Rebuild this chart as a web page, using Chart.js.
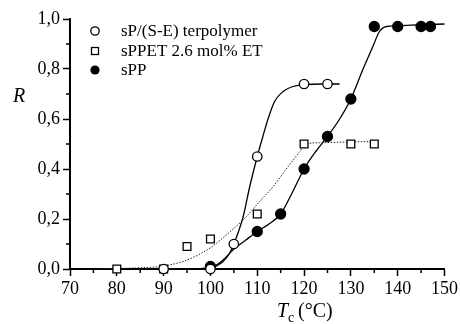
<!DOCTYPE html>
<html lang="en">
<head>
  <meta charset="UTF-8" />
  <title>R vs Tc</title>
  <style>
    *{box-sizing:border-box;margin:0;padding:0;}
    html,body{width:460px;height:324px;background:#fff;overflow:hidden;}
    #wrap{position:relative;width:460px;height:324px;}
  </style>
</head>
<body>
  <div id="wrap"><canvas id="chart" width="460" height="324"></canvas></div>

  <script src="https://cdn.jsdelivr.net/npm/chart.js@4.4.1/dist/chart.umd.min.js"></script>
  <script>
  /* -------- data -------- */
  const seriesNames=['sP/(S-E) terpolymer','sPPET 2.6 mol% ET','sPP'];

  // measured points
  const terpolyT=[90,100,105,110,120,125];
  const terpolyR=[0,0,0.10,0.45,0.74,0.74];
  const sppetT=[80,90,95,100,110,120,130,135];
  const sppetR=[0,0,0.09,0.12,0.22,0.50,0.50,0.50];
  const sppT=[100,110,115,120,125,130,135,140,145,147];
  const sppR=[0.01,0.15,0.22,0.40,0.53,0.68,0.97,0.97,0.97,0.97];

  // fitted curves (traced)
  const terpolyFitT=[90,95,100,101.3,102.7,104,105,106,107,108.4,110,111.2,112.3,113.7,115.5,117.6,120,124,127.6];
  const terpolyFitR=[0,0,0.003,0.012,0.03,0.06,0.10,0.15,0.21,0.33,0.45,0.53,0.60,0.67,0.71,0.73,0.737,0.74,0.74];
  const sppetFitT=[75.5,80,85,90,95,100,103,107.7,110.5,113.4,116.2,119.1,120.5,123.3,129,135.7];
  const sppetFitR=[0,0.002,0.005,0.012,0.036,0.085,0.13,0.21,0.27,0.33,0.40,0.47,0.50,0.505,0.508,0.51];
  const sppFitT=[90,95,100,102.7,104.8,107.5,110,112.5,115,117.6,120,122.5,125,127.6,130,132.6,134.7,136.1,137.6,140,145,150];
  const sppFitR=[0,0,0.005,0.036,0.076,0.115,0.15,0.18,0.22,0.31,0.40,0.47,0.53,0.60,0.68,0.80,0.89,0.95,0.97,0.973,0.977,0.98];

  const xTicks=[70,80,90,100,110,120,130,140,150];
  const yTicks=[0,0.2,0.4,0.6,0.8,1.0];
  const xMinor=[75,85,95,105,115,125,135,145];
  const yMinor=[0.1,0.3,0.5,0.7,0.9];

  const pts=(xs,ys)=>xs.map((x,i)=>({x,y:ys[i]}));
  const SERIF='"Liberation Serif","DejaVu Serif",serif';

  /* -------- extra drawing: minor ticks, legend, axis titles -------- */
  const decor={
    id:'decor',
    afterDraw(chart){
      const {ctx,chartArea:a,scales:{x,y}}=chart;
      ctx.save();
      ctx.strokeStyle='#000';ctx.lineWidth=1.5;
      xMinor.forEach(v=>{const px=x.getPixelForValue(v);ctx.beginPath();ctx.moveTo(px,a.bottom);ctx.lineTo(px,a.bottom+4);ctx.stroke();});
      yMinor.forEach(v=>{const py=y.getPixelForValue(v);ctx.beginPath();ctx.moveTo(a.left,py);ctx.lineTo(a.left-4,py);ctx.stroke();});

      // legend
      const rows=[31,51,70];
      ctx.lineWidth=1.3;
      ctx.beginPath();ctx.arc(95,rows[0],4.2,0,Math.PI*2);ctx.fillStyle='#fff';ctx.fill();ctx.stroke();
      ctx.fillStyle='#fff';ctx.fillRect(91.5,rows[1]-3.5,7,7);ctx.strokeRect(91.5,rows[1]-3.5,7,7);
      ctx.beginPath();ctx.arc(95,rows[2],4.6,0,Math.PI*2);ctx.fillStyle='#000';ctx.fill();
      ctx.fillStyle='#000';ctx.font='17px '+SERIF;ctx.textBaseline='middle';ctx.textAlign='left';
      seriesNames.forEach((n,i)=>ctx.fillText(n,121,rows[i]+1));

      // y title
      ctx.textBaseline='alphabetic';
      ctx.font='italic 20px '+SERIF;
      ctx.fillText('R',13,102);
      // x title
      ctx.fillText('T',277,317);
      ctx.font='14px '+SERIF;
      ctx.fillText('c',288,322);
      ctx.font='20px '+SERIF;
      ctx.fillText('(°C)',298,317);
      ctx.restore();
    }
  };

  const line=(d,dash)=>({type:'line',data:d,showLine:true,pointRadius:0,borderColor:dash?'#222':'#000',
    borderWidth:dash?1:1.3,borderDash:dash||[],cubicInterpolationMode:'monotone',fill:false,order:5,clip:false});
  const marks=(d,style,r,bg)=>({type:'scatter',data:d,pointStyle:style,pointRadius:r,pointBackgroundColor:bg,
    pointBorderColor:'#000',pointBorderWidth:1.3,showLine:false,order:1,clip:false});

  new Chart(document.getElementById('chart'),{
    type:'scatter',
    data:{datasets:[
      marks(pts(terpolyT,terpolyR),'circle',4.7,'#fff'),
      marks(pts(sppetT,sppetR),'rect',5.5,'#fff'),
      marks(pts(sppT,sppR),'circle',5,'#000'),
      line(pts(terpolyFitT,terpolyFitR)),
      line(pts(sppetFitT,sppetFitR),[1.5,1.5]),
      line(pts(sppFitT,sppFitR))
    ]},
    options:{
      responsive:false,animation:false,
      layout:{padding:{left:0,right:15,top:19,bottom:0}},
      plugins:{legend:{display:false},tooltip:{enabled:false}},
      scales:{
        x:{type:'linear',min:70,max:150,
          afterBuildTicks:s=>{s.ticks=xTicks.map(v=>({value:v}));},
          afterFit:s=>{s.height=55;},
          ticks:{font:{family:SERIF,size:18},color:'#000',padding:2,maxRotation:0},
          grid:{drawOnChartArea:false,drawTicks:true,tickLength:7,tickWidth:1.5,tickColor:'#000'},
          border:{display:true,color:'#000',width:2}},
        y:{type:'linear',min:0,max:1,
          afterBuildTicks:s=>{s.ticks=yTicks.map(v=>({value:v}));},
          afterFit:s=>{s.width=70;},
          ticks:{font:{family:SERIF,size:18},color:'#000',padding:3,callback:v=>v.toFixed(1).replace('.',',')},
          grid:{drawOnChartArea:false,drawTicks:true,tickLength:7,tickWidth:1.5,tickColor:'#000'},
          border:{display:true,color:'#000',width:2}}
      }
    },
    plugins:[decor]
  });
  </script>
</body>
</html>
